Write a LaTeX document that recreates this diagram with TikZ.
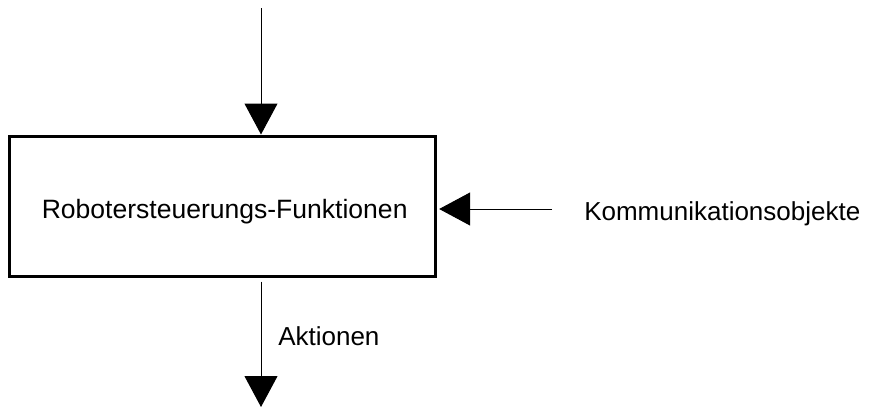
\documentclass[tikz,border=0pt]{standalone}
\usepackage{fontspec}
\setmainfont{Liberation Sans}
\usetikzlibrary{arrows.meta}
\begin{document}
\begin{tikzpicture}[x=0.75pt,y=-0.75pt,
  lbl/.style={inner sep=0pt,font=\fontsize{19.5}{23}\selectfont},
  flow/.style={line width=0.75pt,-{Triangle[length=23.25pt,width=24.75pt]}},
  blockbox/.style={draw,line width=2.25pt,minimum width=319.5pt,minimum height=105pt,inner sep=0pt,text height=18pt,text depth=0pt,font=\fontsize{19.9}{23}\selectfont}]
\useasboundingbox (0,0) rectangle (872,407);
\node[blockbox] (box) at (222,206) {\hspace*{4pt}Robotersteuerungs-Funktionen};
\coordinate (topin) at (261,8);
\coordinate (rin) at (552,209);
\coordinate (botout) at (261,407);
\node[lbl,anchor=base west] (komm) at (584,220) {Kommunikationsobjekte};
\node[lbl,anchor=base west] (akt) at (278,345) {Aktionen};
\draw[flow] (topin) -- (box.north -| topin);
\draw[flow,shorten >=2pt] (rin) -- (box.east |- rin);
\draw[flow,shorten <=3pt] (box.south -| botout) -- (botout);
\end{tikzpicture}
\end{document}
